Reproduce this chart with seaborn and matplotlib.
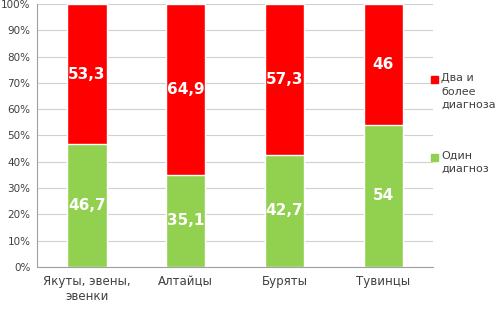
import pandas as pd
import matplotlib.pyplot as plt
import seaborn as sns
from matplotlib.patches import Rectangle
from matplotlib.ticker import PercentFormatter

# Данные
groups = ["Якуты, эвены,\nэвенки", "Алтайцы", "Буряты", "Тувинцы"]
one_diag = [46.7, 35.1, 42.7, 54]
two_diag = [53.3, 64.9, 57.3, 46]
one_labels = ["46,7", "35,1", "42,7", "54"]
two_labels = ["53,3", "64,9", "57,3", "46"]
legend_labels = ["Два и\nболее\nдиагноза", "Один\nдиагноз"]

red = "#ff0000"
green = "#92d050"

df = pd.DataFrame({"group": groups, "one": one_diag, "two": two_diag})
df["total"] = df["one"] + df["two"]

sns.set_style("white")
fig = plt.figure(figsize=(4.97, 3.09), dpi=100)
ax = fig.add_axes([0.075, 0.136, 0.796, 0.851])

# Красная часть рисуется на всю высоту, зелёная поверх
sns.barplot(data=df, x="group", y="total", color=red, width=0.4, saturation=1, ax=ax)
sns.barplot(data=df, x="group", y="one", color=green, width=0.4, saturation=1, ax=ax)

for i in range(len(groups)):
    ax.text(i, one_diag[i] / 2, one_labels[i], ha="center", va="center",
            color="white", fontsize=11, fontweight="bold")
    ax.text(i, one_diag[i] + two_diag[i] / 2, two_labels[i], ha="center", va="center",
            color="white", fontsize=11, fontweight="bold")

ax.set_ylim(0, 100)
ax.set_xlim(-0.5, 3.5)
ax.set_yticks(range(0, 101, 10))
ax.yaxis.set_major_formatter(PercentFormatter(decimals=0))
ax.set_xticks([-0.5, 0.5, 1.5, 2.5, 3.5], minor=True)
ax.tick_params(axis="x", which="major", length=0, labelsize=8.5, colors="#404040", pad=6)
ax.tick_params(axis="x", which="minor", length=4, color="#a0a0a0")
ax.tick_params(axis="y", length=3, color="#a0a0a0", labelsize=7.5, labelcolor="#404040", pad=2)
ax.grid(axis="y", color="#d0d0d0", linewidth=0.8)
ax.set_axisbelow(True)
ax.set_xlabel("")
ax.set_ylabel("")
for s in ["top", "right"]:
    ax.spines[s].set_visible(False)
for s in ["left", "bottom"]:
    ax.spines[s].set_color("#a0a0a0")
    ax.spines[s].set_linewidth(0.8)

# Легенда: квадрат на уровне первой строки подписи
for color, label, y in zip([red, green], legend_labels, [0.742, 0.492]):
    fig.patches.append(Rectangle((0.868, y - 0.012), 0.014, 0.023, color=color,
                                 transform=fig.transFigure, figure=fig))
    fig.text(0.888, y + 0.022, label, fontsize=8, color="#404040",
             va="top", ha="left", linespacing=1.45)

fig.savefig("out.png", dpi=100)
